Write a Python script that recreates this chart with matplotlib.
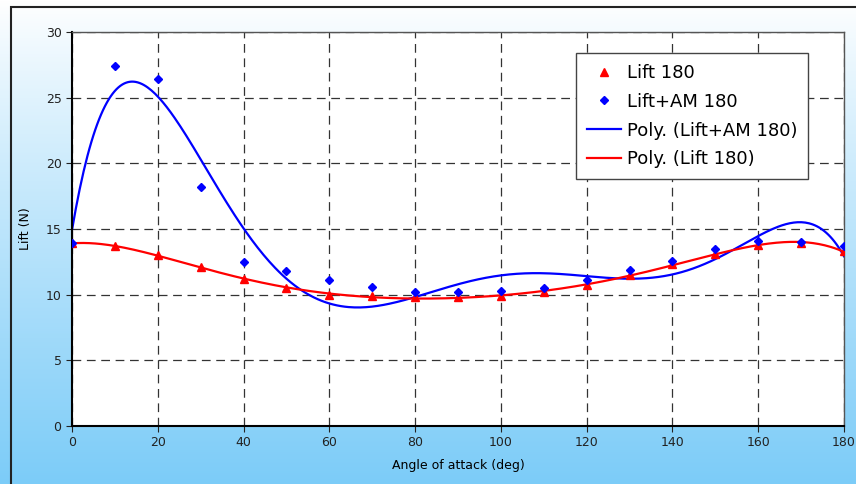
import numpy as np
import matplotlib.pyplot as plt
from matplotlib.patches import Rectangle

# angle of attack (deg)
angle = [0, 10, 20, 30, 40, 50, 60, 70, 80, 90, 100, 110, 120, 130, 140, 150, 160, 170, 180]
lift_180 = [13.9, 13.7, 13.0, 12.1, 11.2, 10.5, 10.0, 9.9, 9.8, 9.8, 9.9, 10.2, 10.7, 11.5, 12.3, 13.1, 13.8, 13.9, 13.3]
lift_am_180 = [13.9, 27.4, 26.4, 18.2, 12.5, 11.8, 11.1, 10.6, 10.2, 10.2, 10.3, 10.5, 11.1, 11.9, 12.6, 13.5, 14.1, 14.0, 13.7]

x_ticks = [0, 20, 40, 60, 80, 100, 120, 140, 160, 180]
y_ticks = [0, 5, 10, 15, 20, 25, 30]


def poly_trend(x, y, order=6):
    # same idea as an Excel polynomial trendline
    p = np.polynomial.Polynomial.fit(x, y, order)
    xs = np.linspace(min(x), max(x), 400)
    return xs, p(xs)


fig = plt.figure(figsize=(8.56, 4.84), dpi=100)

# gradient backdrop behind the plot area
bg = fig.add_axes([0, 0, 1, 1], zorder=-10)
grad = np.linspace(0, 1, 256).reshape(-1, 1)
top = np.array([1.0, 1.0, 1.0])
bottom = np.array([0x7c, 0xcc, 0xf8]) / 255
img = top + (bottom - top) * grad[..., None] ** 0.9
bg.imshow(img, aspect='auto', extent=[0, 1, 0, 1], origin='upper')
bg.set_xlim(0, 1)
bg.set_ylim(0, 1)
bg.axis('off')
# chart border (left and top visible)
fig.patches.append(Rectangle((11 / 856, -0.1), 1.2, 1 - 7 / 484 + 0.1,
                             transform=fig.transFigure, fill=False,
                             edgecolor='#222222', linewidth=1.5))

ax = fig.add_axes([72 / 856, 1 - 426 / 484, (844 - 72) / 856, (426 - 32) / 484])
ax.set_facecolor('white')

ax.plot(angle, lift_180, linestyle='none', marker='^', color='red',
        markersize=6, label='Lift 180', zorder=3)
ax.plot(angle, lift_am_180, linestyle='none', marker='D', color='blue',
        markersize=4.5, label='Lift+AM 180', zorder=3)

xs, ys = poly_trend(angle, lift_am_180)
ax.plot(xs, ys, color='blue', linewidth=1.6, label='Poly. (Lift+AM 180)', zorder=2)
xs, ys = poly_trend(angle, lift_180)
ax.plot(xs, ys, color='red', linewidth=1.6, label='Poly. (Lift 180)', zorder=2)

ax.set_xlim(0, 180)
ax.set_ylim(0, 30)
ax.set_xticks(x_ticks)
ax.set_yticks(y_ticks)
ax.grid(True, color='black', linestyle=(0, (7, 4.5)), linewidth=0.9, alpha=0.8)
ax.set_axisbelow(True)
ax.tick_params(direction='out', length=4, labelsize=9, colors='#222222')

for side in ['top', 'right']:
    ax.spines[side].set_color('#555555')
    ax.spines[side].set_linewidth(1)
for side in ['left', 'bottom']:
    ax.spines[side].set_color('black')
    ax.spines[side].set_linewidth(1.5)

ax.set_xlabel('Angle of attack (deg)', fontsize=9, labelpad=7)
ax.set_ylabel('Lift (N)', fontsize=9, labelpad=10)

ax.legend(loc='upper right', bbox_to_anchor=(808 / 856, 1 - 53 / 484),
          bbox_transform=fig.transFigure, borderaxespad=0, fontsize=13,
          fancybox=False, framealpha=1, edgecolor='#444444', handlelength=1.9,
          handletextpad=0.3, borderpad=0.6, labelspacing=0.6)

plt.savefig('out.png', dpi=100)
